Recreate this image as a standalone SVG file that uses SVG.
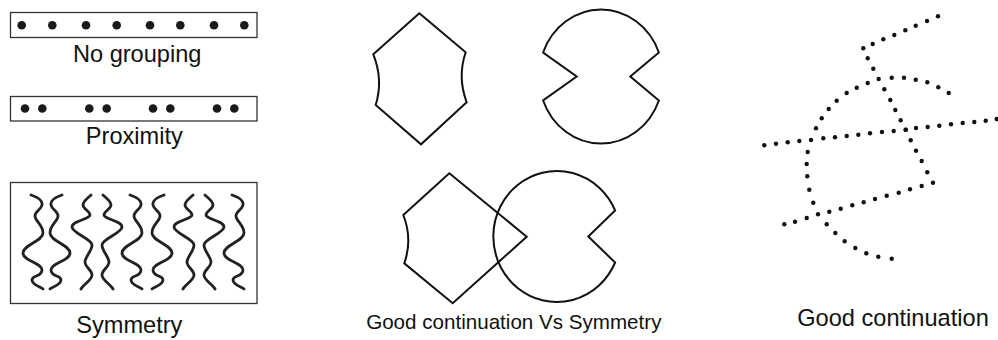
<svg xmlns="http://www.w3.org/2000/svg" xmlns:xlink="http://www.w3.org/1999/xlink" width="998" height="340" viewBox="0 0 998 340">
<style>
.frame{fill:none;stroke:#333;stroke-width:1.3}
.bd{fill:#1a1a1a}
.sd{fill:#111}
.wave{fill:none;stroke:#222;stroke-width:2.8;stroke-linecap:round}
.shape{fill:none;stroke:#111;stroke-width:2;stroke-linejoin:miter}
.lbl{font-family:"Liberation Sans",Arial,sans-serif;font-size:23.6px;fill:#111;text-anchor:middle}
.lbl2{font-family:"Liberation Sans",Arial,sans-serif;font-size:20.6px;fill:#111;text-anchor:middle}
</style>
<defs>
<path id="wA" d="M -4,0 C 2,2 8,5 7,10 S 0,16 0,21 S 8,30 8,38 S -12,50 -12,58 S 7,68 7,75 S -3,80 -3,85 S 6,92 8,94"/>
<path id="wC" d="M 3,0 C 0,3 -5,6 -5,10 S 2,16 2,20 S -16,26 -16,32 S 4,44 4,50 S -3,62 -3,67 S 4,75 4,80 S -5,90 -7,94"/>
</defs>
<g id="no-grouping">
<rect class="frame" x="10.5" y="12.5" width="246.5" height="25"/>
<circle class="bd" cx="21.7" cy="25.3" r="4.3"/>
<circle class="bd" cx="52.3" cy="25.3" r="4.3"/>
<circle class="bd" cx="86" cy="25.3" r="4.3"/>
<circle class="bd" cx="116.7" cy="25.3" r="4.3"/>
<circle class="bd" cx="150" cy="25.3" r="4.3"/>
<circle class="bd" cx="180.3" cy="25.3" r="4.3"/>
<circle class="bd" cx="214" cy="25.3" r="4.3"/>
<circle class="bd" cx="244.3" cy="25.3" r="4.3"/>
<text class="lbl" x="137.2" y="61.7">No grouping</text>
</g>
<g id="proximity">
<rect class="frame" x="10.5" y="96.5" width="246.5" height="24.5"/>
<circle class="bd" cx="25" cy="108.5" r="4.3"/>
<circle class="bd" cx="42.3" cy="108.5" r="4.3"/>
<circle class="bd" cx="89.3" cy="108.5" r="4.3"/>
<circle class="bd" cx="106.7" cy="108.5" r="4.3"/>
<circle class="bd" cx="153" cy="108.5" r="4.3"/>
<circle class="bd" cx="170.3" cy="108.5" r="4.3"/>
<circle class="bd" cx="217" cy="108.5" r="4.3"/>
<circle class="bd" cx="234.3" cy="108.5" r="4.3"/>
<text class="lbl" x="134.3" y="143.8">Proximity</text>
</g>
<g id="symmetry">
<rect class="frame" x="10.5" y="182.5" width="246.5" height="121"/>
<use class="wave" xlink:href="#wA" transform="translate(35,195)"/>
<use class="wave" xlink:href="#wA" transform="translate(58,195) scale(-1,1)"/>
<use class="wave" xlink:href="#wC" transform="translate(88,195)"/>
<use class="wave" xlink:href="#wC" transform="translate(106,195) scale(-1,1)"/>
<use class="wave" xlink:href="#wA" transform="translate(134,195)"/>
<use class="wave" xlink:href="#wA" transform="translate(160,195) scale(-1,1)"/>
<use class="wave" xlink:href="#wC" transform="translate(190,195)"/>
<use class="wave" xlink:href="#wC" transform="translate(208,195) scale(-1,1)"/>
<use class="wave" xlink:href="#wA" transform="translate(236,195)"/>
<text class="lbl" x="129.3" y="333">Symmetry</text>
</g>
<g id="hexagon-top">
<path class="shape" d="M 419.3,13.3 L 465.7,52.3 Q 457.2,77.3 466.7,102.3 L 421,144.3 L 375.7,105 Q 383.5,79.7 373.3,54.3 Z"/>
</g>
<g id="pacman-top">
<path class="shape" d="M 543.1,52.5 A 62 67 0 0 1 658.9,52.5 L 630.3,76.5 L 658.9,100.5 A 62 67 0 0 1 543.1,100.5 L 576.7,76.5 Z"/>
</g>
<g id="hexagon-bottom">
<path class="shape" d="M 449.3,173.3 L 526.7,236.7 L 452.7,303.3 L 404.3,263.3 Q 412.8,239.2 403.3,215 Z"/>
</g>
<g id="pacman-bottom">
<path class="shape" d="M 615.1,210.5 A 63.5 65.5 0 1 0 615.1,262.5 L 588.3,236.5 Z"/>
</g>
<text class="lbl2" x="513.8" y="328.6">Good continuation Vs Symmetry</text>
<g id="good-continuation">
<g class="sd">
<circle cx="863.3" cy="48.3" r="2.2"/><circle cx="872.7" cy="44" r="2.2"/><circle cx="883.3" cy="39.3" r="2.2"/><circle cx="894.3" cy="35" r="2.2"/><circle cx="905.3" cy="30.3" r="2.2"/><circle cx="915.7" cy="25.7" r="2.2"/><circle cx="927" cy="21" r="2.2"/><circle cx="938" cy="16.3" r="2.2"/>
<circle cx="867.7" cy="58.3" r="2.2"/><circle cx="873.3" cy="68.7" r="2.2"/><circle cx="878.7" cy="79" r="2.2"/><circle cx="884.3" cy="89.3" r="2.2"/><circle cx="890.3" cy="100" r="2.2"/><circle cx="895.3" cy="110" r="2.2"/><circle cx="900.7" cy="120.3" r="2.2"/><circle cx="905.7" cy="129.7" r="2.2"/><circle cx="910.7" cy="140.3" r="2.2"/><circle cx="916" cy="150.7" r="2.2"/><circle cx="921.7" cy="161" r="2.2"/><circle cx="927.3" cy="172.3" r="2.2"/><circle cx="933" cy="182.7" r="2.2"/>
<circle cx="921.7" cy="186" r="2.2"/><circle cx="910" cy="189.3" r="2.2"/><circle cx="898.7" cy="192.7" r="2.2"/><circle cx="886.7" cy="195.7" r="2.2"/><circle cx="875" cy="199" r="2.2"/><circle cx="863.7" cy="202.3" r="2.2"/><circle cx="852.3" cy="205.3" r="2.2"/><circle cx="840.7" cy="208.7" r="2.2"/><circle cx="829.3" cy="211.7" r="2.2"/><circle cx="818" cy="214.3" r="2.2"/><circle cx="806.7" cy="218" r="2.2"/><circle cx="795" cy="221.7" r="2.2"/><circle cx="784.3" cy="224.3" r="2.2"/>
<circle cx="948.7" cy="93" r="2.2"/><circle cx="938.3" cy="87.3" r="2.2"/><circle cx="927.3" cy="82.3" r="2.2"/><circle cx="915.7" cy="79.7" r="2.2"/><circle cx="904" cy="77.7" r="2.2"/><circle cx="891.7" cy="77.7" r="2.2"/><circle cx="867.7" cy="83" r="2.2"/><circle cx="856.7" cy="87.7" r="2.2"/><circle cx="846.7" cy="93" r="2.2"/><circle cx="836.7" cy="100.7" r="2.2"/><circle cx="828.7" cy="109" r="2.2"/><circle cx="821.7" cy="118.3" r="2.2"/><circle cx="816" cy="128.3" r="2.2"/><circle cx="807.7" cy="152" r="2.2"/><circle cx="806.7" cy="164" r="2.2"/><circle cx="807.3" cy="176.3" r="2.2"/><circle cx="809.3" cy="189.7" r="2.2"/><circle cx="813.3" cy="202.7" r="2.2"/><circle cx="826.7" cy="224.3" r="2.2"/><circle cx="835.3" cy="233" r="2.2"/><circle cx="844.7" cy="241.3" r="2.2"/><circle cx="855.3" cy="248" r="2.2"/><circle cx="866.3" cy="253.3" r="2.2"/><circle cx="878.3" cy="256.7" r="2.2"/><circle cx="891.7" cy="258.7" r="2.2"/>
<circle cx="764.3" cy="145.3" r="2.2"/><circle cx="776" cy="143.7" r="2.2"/><circle cx="787.7" cy="142.3" r="2.2"/><circle cx="799.3" cy="141" r="2.2"/><circle cx="811" cy="140" r="2.2"/><circle cx="823.3" cy="138.3" r="2.2"/><circle cx="835" cy="137.3" r="2.2"/><circle cx="846.7" cy="136" r="2.2"/><circle cx="858.3" cy="134.7" r="2.2"/><circle cx="870" cy="133.3" r="2.2"/><circle cx="882" cy="132" r="2.2"/><circle cx="893.7" cy="131" r="2.2"/><circle cx="905.7" cy="129.7" r="2.2"/><circle cx="916" cy="128" r="2.2"/><circle cx="927.7" cy="127" r="2.2"/><circle cx="939.3" cy="125.7" r="2.2"/><circle cx="951" cy="124.3" r="2.2"/><circle cx="962.7" cy="123" r="2.2"/><circle cx="974.3" cy="122" r="2.2"/><circle cx="985.7" cy="120.7" r="2.2"/><circle cx="996.7" cy="119" r="2.2"/>
</g>
<text class="lbl" x="893" y="326">Good continuation</text>
</g>
</svg>
